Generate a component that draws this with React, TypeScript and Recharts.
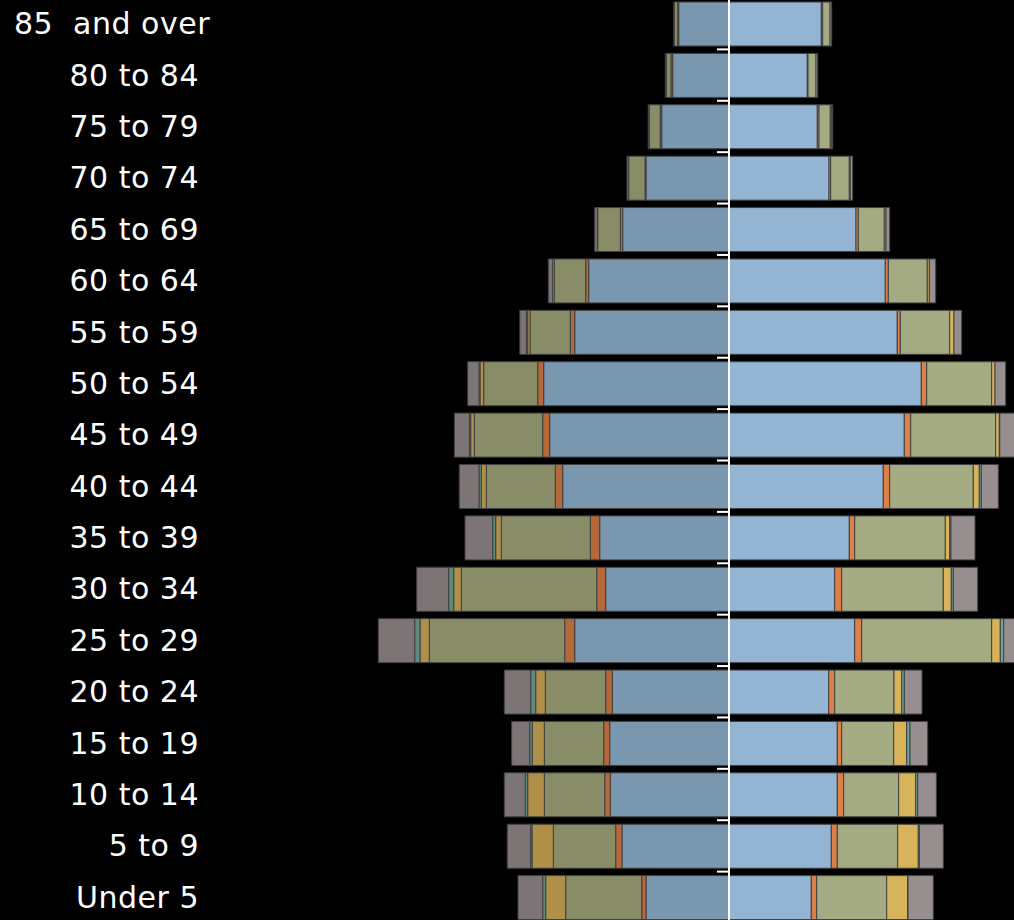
import { BarChart, Bar, XAxis, YAxis, ReferenceLine } from "recharts";

// Age groups, top to bottom
const ages = [
  "85 and over",
  "80 to 84",
  "75 to 79",
  "70 to 74",
  "65 to 69",
  "60 to 64",
  "55 to 59",
  "50 to 54",
  "45 to 49",
  "40 to 44",
  "35 to 39",
  "30 to 34",
  "25 to 29",
  "20 to 24",
  "15 to 19",
  "10 to 14",
  "5 to 9",
  "Under 5",
];

// Male (left side), population in thousands
const maleWhite = [50.3, 56.3, 67.3, 83, 106.3, 140.3, 154.3, 185.3, 179.3, 166.3, 129.3, 123.3, 154.3, 116.7, 119.3, 118.7, 107, 83];
const maleBlack = [1, 1.7, 1.5, 1, 2.4, 3, 4.4, 6, 7, 7.4, 9.4, 9, 10, 6.6, 6, 5.6, 6.3, 4.3];
const maleHispanic = [3.4, 4.7, 11, 16.3, 22.6, 31.4, 40.3, 54, 68.4, 69, 89, 135.4, 135.4, 60.4, 59.4, 60.4, 62.4, 76];
const maleAsian = [0, 0, 0, 0, 0.3, 1.6, 2.3, 3.7, 3.6, 5, 5.6, 7.6, 9.3, 9.6, 12, 16.6, 21.3, 20];
const maleNative = [0, 0, 0, 0, 0, 0, 1.3, 1, 1.3, 2.3, 3, 5, 5.3, 5, 2.6, 2.4, 1.3, 3];
const maleOther = [0.5, 1, 1, 1.7, 2.7, 4.4, 6.6, 11.3, 15, 19.7, 27.7, 32, 36.4, 26.4, 18, 21, 23.4, 24.7];

// Female (right side)
const femaleWhite = [92.3, 78.3, 88.3, 100, 127, 156.3, 168.3, 192.3, 175.3, 154.3, 120.3, 105.7, 125.7, 99.7, 108.3, 108.3, 102.3, 82.3];
const femaleBlack = [1.4, 0.7, 1.7, 1.7, 2.3, 3, 3, 5.4, 6.4, 6.4, 5.4, 7, 7, 6, 4.4, 6.4, 6, 5.4];
const femaleHispanic = [7.3, 8, 11.3, 18.6, 26, 39, 49.4, 65, 85, 83.6, 90.6, 101.6, 130, 59.3, 52, 55, 60.4, 70];
const femaleAsian = [0, 0, 1, 1, 1.7, 2, 4.3, 3.3, 3.6, 6, 4.4, 8, 8.6, 7.7, 13, 17, 20.6, 21];
const femaleNative = [0, 0, 0, 0, 0, 0, 0, 0, 0.5, 2, 1.3, 2, 3.4, 2.6, 3.3, 2, 1, 0.3];
const femaleOther = [1.7, 1.7, 1.4, 2.4, 3.7, 6.4, 7.7, 10.7, 16, 17, 24, 24.4, 30, 17.7, 17.7, 18.6, 24, 25.3];

const rows = ages.map((age, i) => ({
  age,
  mWhite: -maleWhite[i],
  mBlack: -maleBlack[i],
  mHispanic: -maleHispanic[i],
  mAsian: -maleAsian[i],
  mNative: -maleNative[i],
  mOther: -maleOther[i],
  fWhite: femaleWhite[i],
  fBlack: femaleBlack[i],
  fHispanic: femaleHispanic[i],
  fAsian: femaleAsian[i],
  fNative: femaleNative[i],
  fOther: femaleOther[i],
}));

const series = [
  { key: "mWhite", color: "#7a97b0" },
  { key: "mBlack", color: "#b5693a" },
  { key: "mHispanic", color: "#888c67" },
  { key: "mAsian", color: "#b09048" },
  { key: "mNative", color: "#5e8a80" },
  { key: "mOther", color: "#7d7575" },
  { key: "fWhite", color: "#93b4d3" },
  { key: "fBlack", color: "#dd8048" },
  { key: "fHispanic", color: "#a4aa81" },
  { key: "fAsian", color: "#d7b35c" },
  { key: "fNative", color: "#70a39a" },
  { key: "fOther", color: "#978f8f" },
];

function AgeTick(props: any) {
  const { y, payload } = props;
  const first = payload.value === "85 and over";
  const label = first ? payload.value.replace(" ", "  ") : payload.value;
  return (
    <text
      x={first ? 210 : 199}
      y={y}
      textAnchor="end"
      dominantBaseline="central"
      fill="#ffffff"
      fontSize={30}
      fontFamily="'DejaVu Sans', sans-serif"
      letterSpacing={0.5}
      style={{ whiteSpace: "pre" }}
    >
      {label}
    </text>
  );
}

export default function App() {
  return (
    <div style={{ position: "fixed", inset: 0, background: "#000", overflow: "hidden" }}>
      <div style={{ position: "absolute", left: 0, top: -2 }}>
        <BarChart
          width={1248}
          height={925}
          data={rows}
          layout="vertical"
          stackOffset="sign"
          barSize={44}
          margin={{ top: 0, right: 0, bottom: 0, left: 0 }}
        >
          <XAxis type="number" domain={[-519, 519]} hide allowDataOverflow />
          <YAxis
            type="category"
            dataKey="age"
            width={210}
            axisLine={false}
            tickLine={false}
            interval={0}
            tick={<AgeTick />}
          />
          {series.map((s) => (
            <Bar
              key={s.key}
              dataKey={s.key}
              stackId="pop"
              fill={s.color}
              stroke="#404040"
              strokeWidth={1}
              isAnimationActive={false}
            />
          ))}
          <ReferenceLine x={0} stroke="#ffffff" strokeWidth={2} />
          {ages.map((a) => (
            <ReferenceLine
              key={a}
              segment={[
                { x: -12, y: a },
                { x: 0, y: a },
              ]}
              position="end"
              stroke="#ffffff"
              strokeWidth={2}
            />
          ))}
        </BarChart>
      </div>
    </div>
  );
}
